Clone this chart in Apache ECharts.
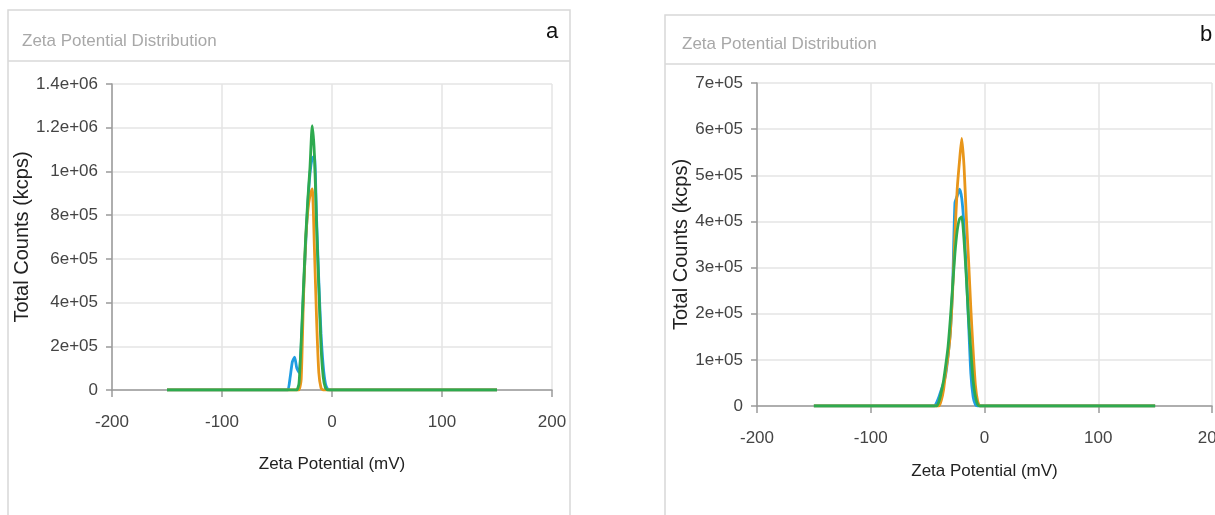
<!DOCTYPE html>
<html>
<head>
    <meta charset="utf-8">
    <title>Zeta Potential Distribution</title>
    <style>
        body {
            margin: 0;
            background: #fff;
        }

        #ec {
            width: 1215px;
            height: 515px;
        }
    </style>
</head>
<body>
    <div id="ec"></div>
    <script src="https://cdn.jsdelivr.net/npm/echarts@6/dist/echarts.min.js"></script>
    <script>
        // x ticks (mV) and y tick labels
        var xTicks = ['-200', '-100', '0', '100', '200'];
        var yLabelsA = ['0', '2e+05', '4e+05', '6e+05', '8e+05', '1e+06', '1.2e+06', '1.4e+06'];
        var yLabelsB = ['0', '1e+05', '2e+05', '3e+05', '4e+05', '5e+05', '6e+05', '7e+05'];

        // panel a: zeta potential (mV) and counts for the three runs
        var zetaA = [-150, -42, -40, -38, -36, -34, -32, -30, -28, -26, -24, -22, -20, -18, -16, -14, -12, -10, -8, -6, -4, -2, 150];
        var blueA = [0, 0, 0, 60000, 130000, 150000, 100000, 80000, 200000, 440000, 660000, 850000, 990000, 1060000, 1070000, 780000, 500000, 260000, 110000, 30000, 5000, 0, 0];
        var orangeA = [0, 0, 0, 0, 0, 0, 0, 0, 50000, 410000, 680000, 820000, 890000, 920000, 650000, 320000, 80000, 10000, 0, 0, 0, 0, 0];
        var greenA = [0, 0, 0, 0, 0, 0, 0, 30000, 220000, 460000, 690000, 870000, 1020000, 1210000, 1080000, 750000, 470000, 200000, 60000, 10000, 0, 0, 0];

        // panel b
        var zetaB = [-150, -46, -44, -42, -40, -38, -36, -34, -32, -30, -28, -26, -24, -22, -20, -18, -16, -14, -12, -10, -8, -6, -4, -2, 150];
        var blueB = [0, 0, 0, 8000, 20000, 35000, 50000, 70000, 110000, 160000, 260000, 440000, 455000, 470000, 450000, 390000, 290000, 180000, 70000, 20000, 3000, 0, 0, 0, 0];
        var orangeB = [0, 0, 0, 0, 0, 12000, 35000, 75000, 110000, 160000, 250000, 370000, 470000, 530000, 580000, 520000, 410000, 315000, 210000, 120000, 45000, 10000, 0, 0, 0];
        var greenB = [0, 0, 0, 0, 10000, 30000, 55000, 90000, 130000, 190000, 260000, 330000, 380000, 405000, 410000, 360000, 280000, 190000, 120000, 55000, 20000, 3000, 0, 0, 0];

        var colors = ['#1f9de2', '#e8961a', '#2eaa4f'];
        var font = '"Liberation Sans", Arial, sans-serif';
        var axisGrey = '#9a9a9a';

        function pairs(xs, ys) {
            return xs.map(function (x, i) { return [x, ys[i]]; });
        }

        function xAxisFor(grid, gap) {
            return {
                type: 'value', gridIndex: grid,
                min: -200, max: 200, interval: 100,
                name: 'Zeta Potential (mV)', nameLocation: 'middle', nameGap: gap,
                nameTextStyle: { fontFamily: font, fontSize: 17, color: '#222' },
                axisLine: { onZero: false, lineStyle: { color: axisGrey, width: 1.5 } },
                axisTick: { show: true, length: 7, lineStyle: { color: axisGrey, width: 1.5 } },
                axisLabel: {
                    margin: 24, fontFamily: font, fontSize: 17, color: '#444',
                    formatter: function (v) { return xTicks[Math.round((v + 200) / 100)]; }
                },
                splitLine: { show: true, lineStyle: { color: '#e4e4e4', width: 1.5 } }
            };
        }

        function yAxisFor(grid, max, step, labels, gap) {
            return {
                type: 'value', gridIndex: grid,
                min: 0, max: max, interval: step,
                name: 'Total Counts (kcps)', nameLocation: 'middle', nameGap: gap, nameRotate: 90,
                nameTextStyle: { fontFamily: font, fontSize: 20, color: '#222' },
                axisLine: { show: true, onZero: false, lineStyle: { color: axisGrey, width: 1.5 } },
                axisTick: { show: true, length: 6, lineStyle: { color: axisGrey, width: 1.5 } },
                axisLabel: {
                    margin: 14, fontFamily: font, fontSize: 17, color: '#444',
                    formatter: function (v) { return labels[Math.round(v / step)]; }
                },
                splitLine: { show: true, lineStyle: { color: '#e4e4e4', width: 1.5 } }
            };
        }

        function line(grid, xs, ys, color) {
            return {
                type: 'line', xAxisIndex: grid, yAxisIndex: grid,
                data: pairs(xs, ys),
                showSymbol: false, smooth: 0.2,
                lineStyle: { color: color, width: 2.8 },
                itemStyle: { color: color }
            };
        }

        var chart = echarts.init(document.getElementById('ec'), null, { renderer: 'canvas' });
        chart.setOption({
            animation: false,
            title: [
                { text: 'Zeta Potential Distribution', left: 17, top: 28, textStyle: { fontFamily: font, fontSize: 17, fontWeight: 'normal', color: '#a8a8a8' } },
                { text: 'a', left: 541, top: 16, textStyle: { fontFamily: font, fontSize: 22, fontWeight: 'normal', color: '#111' } },
                { text: 'Zeta Potential Distribution', left: 677, top: 31, textStyle: { fontFamily: font, fontSize: 17, fontWeight: 'normal', color: '#a8a8a8' } },
                { text: 'b', left: 1195, top: 19, textStyle: { fontFamily: font, fontSize: 22, fontWeight: 'normal', color: '#111' } }
            ],
            graphic: [
                { type: 'rect', shape: { x: 8, y: 10, width: 562, height: 530 }, style: { fill: 'none', stroke: '#d8d8d8', lineWidth: 1.5 } },
                { type: 'line', shape: { x1: 8, y1: 61, x2: 570, y2: 61 }, style: { stroke: '#d8d8d8', lineWidth: 1.5 } },
                { type: 'rect', shape: { x: 665, y: 15, width: 600, height: 530 }, style: { fill: 'none', stroke: '#d8d8d8', lineWidth: 1.5 } },
                { type: 'line', shape: { x1: 665, y1: 64, x2: 1215, y2: 64 }, style: { stroke: '#d8d8d8', lineWidth: 1.5 } }
            ],
            grid: [
                { left: 112, top: 84, width: 440, height: 306, outerBoundsMode: 'none' },
                { left: 757, top: 83, width: 455, height: 323, outerBoundsMode: 'none' }
            ],
            xAxis: [xAxisFor(0, 66), xAxisFor(1, 57)],
            yAxis: [yAxisFor(0, 1400000, 200000, yLabelsA, 72), yAxisFor(1, 700000, 100000, yLabelsB, 60)],
            series: [
                line(0, zetaA, blueA, colors[0]),
                line(0, zetaA, orangeA, colors[1]),
                line(0, zetaA, greenA, colors[2]),
                line(1, zetaB, blueB, colors[0]),
                line(1, zetaB, orangeB, colors[1]),
                line(1, zetaB, greenB, colors[2])
            ]
        });
    </script>
</body>
</html>
